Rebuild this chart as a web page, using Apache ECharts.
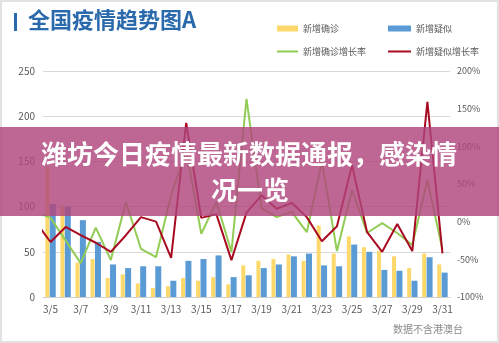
<!DOCTYPE html>
<html><head><meta charset="utf-8">
<script src="https://cdn.jsdelivr.net/npm/echarts@6/dist/echarts.min.js"></script>
<style>html,body{margin:0;padding:0;background:#fff}#c{width:499px;height:343px}</style>
</head><body><div id="c"></div>
<script>
const categories = ['3/5','3/6','3/7','3/8','3/9','3/10','3/11','3/12','3/13','3/14','3/15','3/16','3/17','3/18','3/19','3/20','3/21','3/22','3/23','3/24','3/25','3/26','3/27','3/28','3/29','3/30','3/31'];
const newConfirmed = [144,100,38,42,21,25,15,10,12,21,18,22,14,35,40,42,47,40,79,48,67,55,51,45,32,48,36];
const newSuspected = [103,100,85,61,36,32,34,34,18,40,42,46,22,24,32,36,45,48,35,34,58,50,30,29,18,44,27];
const confirmedRate = [5,-25,-55,-8,-51,26,-36,-47,35,95,-16,26,-40,163,18,6,13,-14,80,-39,42,-15,-2,-15,-31,55,-37];
const suspectedRate = [-27,-7,-18,-28,-40,-18,6,0,-48,131,5,10,-51,12,35,17,25,6,-26,-6,75,-14,-40,-3,-39,159,-42];
const confirmedRatePrev = 13;   // 3/4, only its tail is visible
const suspectedRatePrev = 0;
const leftTicks = [0,50,100,150,200,250];
const rightTicks = [-100,-50,0,50,100,150,200];

const toPts = (prev, arr) => [[-1, prev]].concat(arr.map((v, i) => [i, v]));

const chart = echarts.init(document.getElementById('c'));
const txt = '#595959';
const font = '"Noto Sans CJK SC", "Noto Sans", sans-serif';
chart.setOption({
  animation: false,
  backgroundColor: '#ffffff',
  textStyle: { fontFamily: font },
  grid: { left: 43, right: 49, top: 71, bottom: 46, containLabel: false },
  legend: [
    { data: [{ name: '新增确诊', icon: 'rect' }], left: 272, top: 19, itemWidth: 21, itemHeight: 6, textStyle: { fontSize: 9, color: txt } },
    { data: [{ name: '新增疑似', icon: 'rect' }], left: 383, top: 19, itemWidth: 23, itemHeight: 6, textStyle: { fontSize: 9, color: txt } },
    { data: [{ name: '新增确诊增长率', icon: 'rect' }], left: 272, top: 42, itemWidth: 21, itemHeight: 2, textStyle: { fontSize: 9, color: txt } },
    { data: [{ name: '新增疑似增长率', icon: 'rect' }], left: 383, top: 42, itemWidth: 23, itemHeight: 2, textStyle: { fontSize: 9, color: txt } }
  ],
  xAxis: [
    { type: 'category', data: categories, boundaryGap: true,
      axisLine: { lineStyle: { color: '#d0d0d0' } },
      axisTick: { interval: 1, length: 4, lineStyle: { color: '#d0d0d0' } },
      axisLabel: { interval: 1, color: txt, fontSize: 10, margin: 7 } },
    { type: 'value', min: -0.5, max: 26.5, show: false }
  ],
  yAxis: [
    { type: 'value', min: leftTicks[0], max: leftTicks[leftTicks.length-1], interval: 50,
      axisLine: { show: false }, axisTick: { show: false },
      axisLabel: { color: txt, fontSize: 10, margin: 8 },
      splitLine: { lineStyle: { color: '#d9d9d9' } } },
    { type: 'value', min: rightTicks[0], max: rightTicks[rightTicks.length-1], interval: 50,
      axisLine: { show: false }, axisTick: { show: false }, splitLine: { show: false },
      axisLabel: { color: txt, fontSize: 9, margin: 7, formatter: '{value}%' } }
  ],
  series: [
    { name: '新增确诊', type: 'bar', data: newConfirmed, barWidth: 4, barGap: '10%', itemStyle: { color: '#fdd86a' } },
    { name: '新增疑似', type: 'bar', data: newSuspected, barWidth: 6, itemStyle: { color: '#5b9bd5' } },
    { name: '新增确诊增长率', type: 'line', xAxisIndex: 1, yAxisIndex: 1, data: toPts(confirmedRatePrev, confirmedRate), symbol: 'none', clip: true, lineStyle: { color: '#92cc55', width: 2 }, itemStyle: { color: '#92cc55' }, z: 3 },
    { name: '新增疑似增长率', type: 'line', xAxisIndex: 1, yAxisIndex: 1, data: toPts(suspectedRatePrev, suspectedRate), symbol: 'none', clip: true, lineStyle: { color: '#a80a22', width: 2 }, itemStyle: { color: '#a80a22' }, z: 4 }
  ],
  graphic: [
    { type: 'rect', shape: { x: 1, y: 1, width: 497, height: 341 }, style: { fill: 'none', stroke: '#e2e2e2', lineWidth: 2 }, z: 1 },
    { type: 'rect', shape: { x: 14, y: 13, width: 3, height: 18 }, style: { fill: '#2a69ac' }, z: 10 },
    { type: 'text', left: 28, top: 9, style: { text: '全国疫情趋势图A', fill: '#2a69ac', font: 'bold 22px ' + font }, z: 10 },
    { type: 'text', right: 36, top: 324, style: { text: '数据不含港澳台', fill: '#8a8a8a', font: '10px ' + font }, z: 10 },
    { type: 'rect', shape: { x: 0, y: 127, width: 499, height: 89 }, style: { fill: 'rgba(176,70,125,0.82)' }, z: 100 },
    { type: 'text', x: 249, y: 154, style: { text: '潍坊今日疫情最新数据通报，感染情', fill: '#ffffff', font: 'bold 26px ' + font, textAlign: 'center', textVerticalAlign: 'middle' }, z: 101 },
    { type: 'text', x: 250, y: 190, style: { text: '况一览', fill: '#ffffff', font: 'bold 26px ' + font, textAlign: 'center', textVerticalAlign: 'middle' }, z: 101 }
  ]
});
</script></body></html>
